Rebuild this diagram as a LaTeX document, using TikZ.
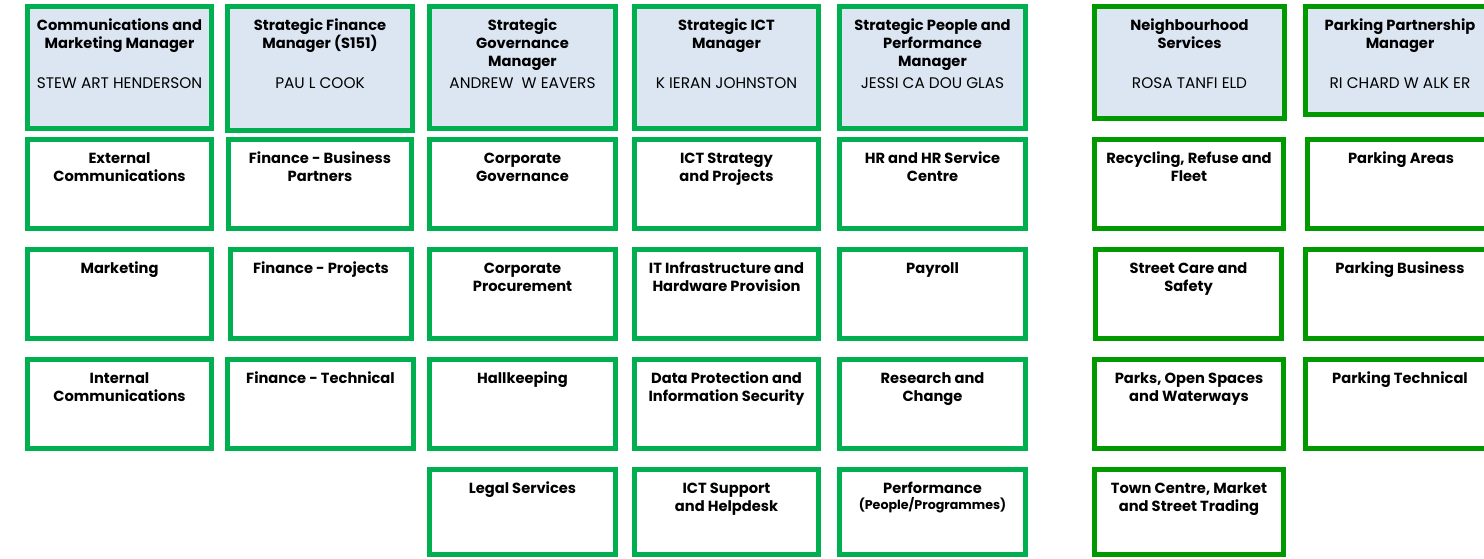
\documentclass[tikz,border=0pt]{standalone}
\usepackage{fontspec}
\setmainfont{Poppins}
\usetikzlibrary{calc}
\definecolor{gA}{HTML}{00B050}
\definecolor{gB}{HTML}{009900}
\definecolor{blueF}{HTML}{DCE6F2}
\newcommand\tstrut{\rule{0pt}{0.8em}}
\tikzset{
  obox/.style={draw=gA, line width=3.75pt, fill=white, inner sep=0pt},
  dbox/.style={obox, draw=gB},
  mgr/.style={fill=blueF},
  hd/.style={font=\bfseries\fontsize{11}{13.5}\selectfont, align=center, inner sep=0pt, anchor=north},
  nm/.style={font=\fontsize{11.5}{13}\selectfont, inner sep=0pt, anchor=center},
}
% name, x1, y1, x2, y2, style, heading
\newcommand\bx[7]{%
  \node[#6, minimum width={(#4-#2-5)*0.75pt}, minimum height={(#5-#3-5)*0.75pt}] (#1) at ({(#2+#4)/2},{(#3+#5)/2}) {};
  \node[hd] (#1t) at ($(#1.north)+(0,14)$) {\tstrut#7};
}
\newcommand\nmlabel[2]{\node[nm] (#1n) at ($(#1.north)+(0,79)$) {#2};}
\begin{document}
\begin{tikzpicture}[x=0.75pt,y=-0.75pt]
\useasboundingbox (0,0) rectangle (1484,558);
% row 1: managers
\bx{m1}{25}{4}{214}{131}{obox,mgr}{Communications and\\Marketing Manager}
\nmlabel{m1}{STEW ART HENDERSON}
\bx{m2}{225}{4}{415}{133}{obox,mgr}{Strategic Finance\\Manager (S151)}
\nmlabel{m2}{PAU L COOK}
\bx{m3}{427}{4}{618}{131}{obox,mgr}{Strategic\\Governance\\Manager}
\nmlabel{m3}{ANDREW\ \ W EAVERS}
\bx{m4}{632}{4}{821}{131}{obox,mgr}{Strategic ICT\\Manager}
\nmlabel{m4}{K IERAN JOHNSTON}
\bx{m5}{837}{4}{1028}{131}{obox,mgr}{Strategic People and\\Performance\\Manager}
\nmlabel{m5}{JESSI CA DOU GLAS}
\bx{m6}{1092}{4}{1287}{121}{dbox,mgr}{Neighbourhood\\Services}
\nmlabel{m6}{ROSA TANFI ELD}
\bx{m7}{1303}{4}{1497}{117}{dbox,mgr}{Parking Partnership\\Manager}
\nmlabel{m7}{RI CHARD W ALK ER}
% row 2
\bx{a2}{25}{137}{214}{231}{obox}{External\\Communications}
\bx{b2}{226}{137}{414}{231}{obox}{Finance - Business\\Partners}
\bx{c2}{427}{137}{618}{231}{obox}{Corporate\\Governance}
\bx{d2}{632}{137}{821}{231}{obox}{ICT Strategy\\and Projects}
\bx{e2}{837}{137}{1028}{231}{obox}{HR and HR Service\\Centre}
\bx{f2}{1092}{137}{1286}{231}{dbox}{Recycling, Refuse and\\Fleet}
\bx{g2}{1305}{137}{1497}{231}{dbox}{Parking Areas}
% row 3
\bx{a3}{25}{247}{214}{341}{obox}{Marketing}
\bx{b3}{228}{247}{414}{341}{obox}{Finance - Projects}
\bx{c3}{427}{247}{618}{341}{obox}{Corporate\\Procurement}
\bx{d3}{632}{247}{821}{341}{obox}{IT Infrastructure and\\Hardware Provision}
\bx{e3}{837}{247}{1028}{341}{obox}{Payroll}
\bx{f3}{1093}{247}{1284}{341}{dbox}{Street Care and\\Safety}
\bx{g3}{1303}{247}{1497}{341}{dbox}{Parking Business}
% row 4
\bx{a4}{25}{357}{214}{451}{obox}{Internal\\Communications}
\bx{b4}{225}{357}{416}{451}{obox}{Finance - Technical}
\bx{c4}{427}{357}{618}{451}{obox}{Hallkeeping}
\bx{d4}{632}{357}{821}{451}{obox}{Data Protection and\\Information Security}
\bx{e4}{837}{357}{1028}{451}{obox}{Research and\\Change}
\bx{f4}{1092}{357}{1286}{451}{dbox}{Parks, Open Spaces\\and Waterways}
\bx{g4}{1303}{357}{1497}{451}{dbox}{Parking Technical}
% row 5
\bx{c5}{427}{467}{618}{557}{obox}{Legal Services}
\bx{d5}{632}{467}{821}{557}{obox}{ICT Support\\and Helpdesk}
\bx{e5}{837}{467}{1028}{557}{obox}{Performance\\[-1.5pt]{\fontsize{9.5}{11}\selectfont (People/Programmes)}}
\bx{f5}{1092}{467}{1286}{557}{dbox}{Town Centre, Market\\and Street Trading}
\end{tikzpicture}
\end{document}
